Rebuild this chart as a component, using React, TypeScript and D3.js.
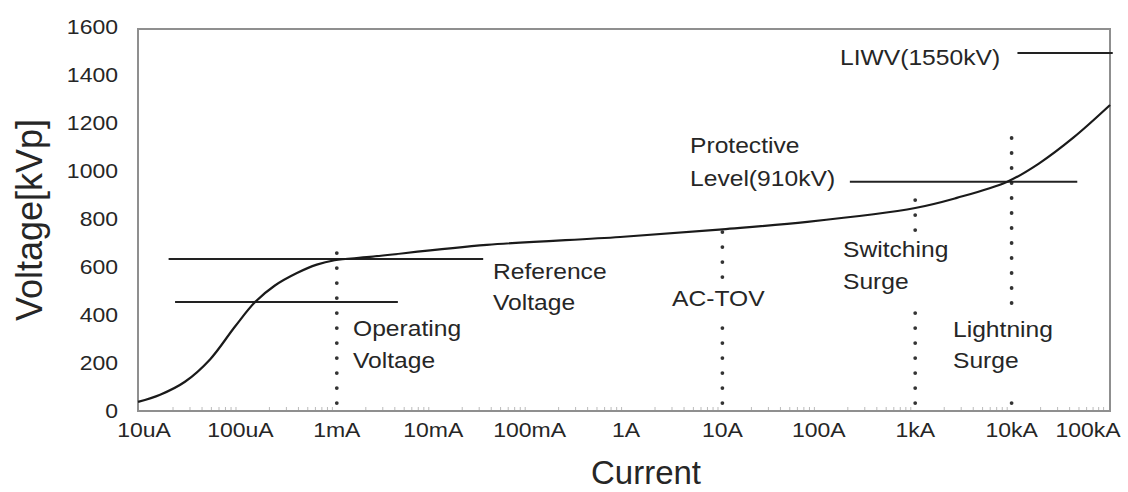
import React from "react";
import * as d3 from "d3";

// V-I characteristic of the arrester
const currentA = [8.67e-6, 1.47e-5, 2.66e-5, 4.84e-5, 8.8e-5, 1.42e-4, 2.28e-4, 3.86e-4, 6.2e-4, 9.5e-4, 2.2e-3, 3.6e-2, 0.87, 10, 76, 1000, 2.7e3, 8.9e3, 1.9e4, 4.4e4, 1.05e5];
const voltageKV = [38, 68, 122, 215, 352, 454, 523, 575, 610, 628, 642, 692, 725, 757, 788, 846, 888, 954, 1030, 1140, 1275];

const xTickValues = [1e-5, 1e-4, 1e-3, 1e-2, 1e-1, 1, 10, 100, 1e3, 1e4, 1e5];
const xTickLabels = ["10uA", "100uA", "1mA", "10mA", "100mA", "1A", "10A", "100A", "1kA", "10kA", "100kA"];
const yTickValues = [0, 200, 400, 600, 800, 1000, 1200, 1400, 1600];

// horizontal levels
const levelKV = [633, 454, 955, 1492];
const levelFromA = [1.8e-5, 2.1e-5, 2.1e2, 1.15e4];
const levelToA = [3.3e-2, 4.3e-3, 4.8e4, 1.12e5];

// dotted vertical markers (current, and voltage spans drawn)
const markerA = [1e-3, 10, 1e3, 1e4];
const markerSpansKV = [
  [[33, 670]],
  [[33, 367], [558, 790]],
  [[33, 412], [754, 900]],
  [[33, 79], [450, 1142]],
];

const W = 1128;
const H = 492;
const frame = { left: 138, top: 29, right: 1110, bottom: 411 };

export default function App() {
  const x = d3.scaleLog().domain([1e-5, 1e5]).range([144, 1108]);
  const y = d3.scaleLinear().domain([0, 1600]).range([411, 27]);

  const pts: [number, number][] = currentA.map((c, i) => [x(c), y(voltageKV[i])]);
  const linePath = d3.line().curve(d3.curveCatmullRom.alpha(0.5))(pts) || "";

  const minor: number[] = [];
  for (let e = -5; e < 5; e++) {
    for (let m = 2; m <= 9; m++) minor.push(m * Math.pow(10, e));
  }

  const font = "'Liberation Sans', Arial, Helvetica, sans-serif";
  const textColor = "#262626";
  const sx = 1.15;

  const ann = (lines: string[], px: number, py: number, key: string, lh = 32) => (
    <g key={key}>
      {lines.map((t, i) => (
        <text
          key={i}
          transform={`translate(${px},${py + i * lh}) scale(1.12,1)`}
          fontSize={22}
          fontFamily={font}
          fill={textColor}
        >
          {t}
        </text>
      ))}
    </g>
  );

  return (
    <svg
      width={W}
      height={H}
      style={{ position: "absolute", left: 0, top: 0, display: "block", background: "#fff" }}
    >
      <rect x={0} y={0} width={W} height={H} fill="#fff" />
      {/* minor ticks */}
      {minor.map((m, i) => (
        <line key={"mt" + i} x1={x(m)} x2={x(m)} y1={frame.bottom} y2={frame.bottom - 4} stroke="#bbb" strokeWidth={1} />
      ))}
      {/* frame */}
      <rect
        x={frame.left}
        y={frame.top}
        width={frame.right - frame.left}
        height={frame.bottom - frame.top}
        fill="none"
        stroke="#8f8f8f"
        strokeWidth={2}
      />
      {/* dotted markers */}
      {markerA.map((a, i) => (
        <g key={"mk" + i}>
          {markerSpansKV[i].map((s, j) => (
            <line
              key={j}
              x1={x(a)}
              x2={x(a)}
              y1={y(s[0])}
              y2={y(s[1])}
              stroke="#333"
              strokeWidth={3.8}
              strokeLinecap="round"
              strokeDasharray="0 15"
            />
          ))}
        </g>
      ))}
      {/* level lines */}
      {levelKV.map((v, i) => (
        <line
          key={"lv" + i}
          x1={x(levelFromA[i])}
          x2={x(levelToA[i])}
          y1={y(v)}
          y2={y(v)}
          stroke="#222"
          strokeWidth={2}
        />
      ))}
      {/* curve */}
      <path d={linePath} fill="none" stroke="#1a1a1a" strokeWidth={2.2} />
      {/* y tick labels */}
      {yTickValues.map((v) => (
        <text
          key={"yt" + v}
          transform={`translate(118,${y(v)}) scale(${sx},1)`}
          textAnchor="end"
          dominantBaseline="central"
          fontSize={20}
          fontFamily={font}
          fill={textColor}
        >
          {v}
        </text>
      ))}
      {/* x tick labels */}
      {xTickValues.map((v, i) => {
        const px = Math.min(x(v), 1088);
        return (
          <text
            key={"xt" + i}
            transform={`translate(${px},437) scale(${sx},1)`}
            textAnchor="middle"
            fontSize={20}
            fontFamily={font}
            fill={textColor}
          >
            {xTickLabels[i]}
          </text>
        );
      })}
      {/* axis titles */}
      <text
        transform={`translate(42,220) rotate(-90)`}
        textAnchor="middle"
        fontSize={36}
        fontFamily={font}
        fill={textColor}
      >
        Voltage[kVp]
      </text>
      <text x={646} y={484} textAnchor="middle" fontSize={33} fontFamily={font} fill={textColor}>
        Current
      </text>
      {/* annotations */}
      {ann(["Operating", "Voltage"], 353, 336, "op")}
      {ann(["Reference", "Voltage"], 493, 279, "ref", 31)}
      {ann(["AC-TOV"], 672, 306, "ac")}
      {ann(["Protective", "Level(910kV)"], 690, 153, "pl", 33)}
      {ann(["Switching", "Surge"], 843, 257, "sw")}
      {ann(["Lightning", "Surge"], 953, 337, "li", 31)}
      {ann(["LIWV(1550kV)"], 840, 65, "liwv")}
    </svg>
  );
}
